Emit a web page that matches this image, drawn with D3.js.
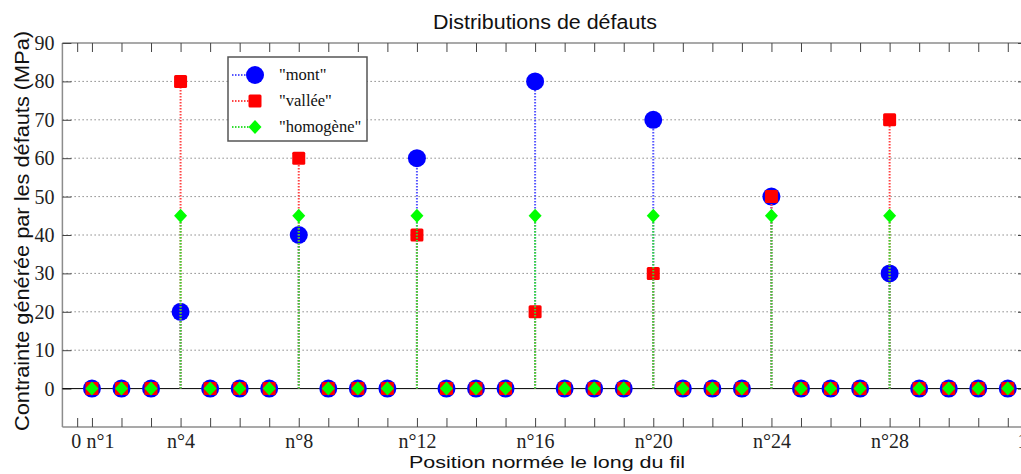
<!DOCTYPE html>
<html><head><meta charset="utf-8">
<script src="https://cdn.jsdelivr.net/npm/d3@7"></script>
<style>body{margin:0;background:#fff;} svg{display:block;}</style>
</head><body>
<svg id="c" width="1021" height="474"></svg>
<script>
// ---- data ----
const positions = [1,2,3,4,5,6,7,8,9,10,11,12,13,14,15,16,17,18,19,20,21,22,23,24,25,26,27,28,29,30,31,32];
const mont     = [0,0,0,20,0,0,0,40,0,0,0,60,0,0,0,80,0,0,0,70,0,0,0,50,0,0,0,30,0,0,0,0];
const vallee   = [0,0,0,80,0,0,0,60,0,0,0,40,0,0,0,20,0,0,0,30,0,0,0,50,0,0,0,70,0,0,0,0];
const homogene = [0,0,0,45,0,0,0,45,0,0,0,45,0,0,0,45,0,0,0,45,0,0,0,45,0,0,0,45,0,0,0,0];
const seriesNames = ['"mont"', '"vallée"', '"homogène"'];
const xTickValues = [0.5,1,2,3,4,5,6,7,8,9,10,11,12,13,14,15,16,17,18,19,20,21,22,23,24,25,26,27,28,29,30,31,32,32.5];
const xTickLabels = {0.5:"0",1:"n°1",4:"n°4",8:"n°8",12:"n°12",16:"n°16",20:"n°20",24:"n°24",28:"n°28",32.5:"1"};
const yTickValues = [0,10,20,30,40,50,60,70,80,90];
const yTickLabels = ["0","10","20","30","40","50","60","70","80","90"];

const svg = d3.select("#c");
const L = 62.4, R = 1027, T = 43, B = 427;
const x = d3.scaleLinear().domain([0, 32.65]).range([L, R]);
const y = d3.scaleLinear().domain([-10, 90]).range([B, T]);

// grid
svg.append("g").selectAll("line").data(yTickValues.filter(v => v > 0 && v < 90)).join("line")
  .attr("x1", L).attr("x2", R).attr("y1", d => y(d)).attr("y2", d => y(d))
  .attr("stroke", "#8a8a8a").attr("stroke-width", 1).attr("stroke-dasharray", "1.5,2.5");

// axes box
const axisCol = "#8c8c8c";
[[L,T,R,T],[L,B,R,B],[L,T,L,B],[R,T,R,B]].forEach(c =>
  svg.append("line").attr("x1", c[0]).attr("y1", c[1]).attr("x2", c[2]).attr("y2", c[3])
    .attr("stroke", axisCol).attr("stroke-width", 1.5));

// x axis (bottom) with inward ticks
const xAxisB = d3.axisBottom(x).tickValues(xTickValues.filter(d => d !== 32.5)).tickSizeInner(-9).tickSizeOuter(0)
  .tickFormat(d => xTickLabels[d] || "");
const gxb = svg.append("g").attr("transform", `translate(0,${B})`).call(xAxisB);
gxb.select(".domain").remove();
gxb.selectAll(".tick line").attr("stroke", "#444");
gxb.selectAll(".tick text").attr("y", 21).attr("dy", 0)
  .attr("font-family", "Liberation Serif, serif").attr("font-size", 20).attr("fill", "#222");
gxb.selectAll(".tick").filter(d => d === 0.5).select("text").attr("x", -1.5);
gxb.selectAll(".tick").filter(d => d === 1).select("text").attr("x", 8);
// right-edge label "1" (cut off by the window as in the reference)
svg.append("text").attr("x", x(32.5)).attr("y", B + 21).attr("text-anchor", "middle")
  .attr("font-family", "Liberation Serif, serif").attr("font-size", 20).attr("fill", "#222")
  .text(xTickLabels[32.5]);
// top ticks
const xAxisT = d3.axisTop(x).tickValues(xTickValues.filter(d => d !== 32.5)).tickSizeInner(-9).tickSizeOuter(0).tickFormat("");
const gxt = svg.append("g").attr("transform", `translate(0,${T})`).call(xAxisT);
gxt.select(".domain").remove();
gxt.selectAll(".tick line").attr("stroke", "#444");

// y axis left
const yAxisL = d3.axisLeft(y).tickValues(yTickValues).tickSizeInner(-9).tickSizeOuter(0)
  .tickFormat((d, i) => yTickLabels[i]);
const gyl = svg.append("g").attr("transform", `translate(${L},0)`).call(yAxisL);
gyl.select(".domain").remove();
gyl.selectAll(".tick line").attr("stroke", "#444");
gyl.selectAll(".tick text").attr("x", -8)
  .attr("font-family", "Liberation Serif, serif").attr("font-size", 20).attr("fill", "#222");
const yAxisR = d3.axisRight(y).tickValues(yTickValues).tickSizeInner(-9).tickSizeOuter(0).tickFormat("");
const gyr = svg.append("g").attr("transform", `translate(${R},0)`).call(yAxisR);
gyr.select(".domain").remove();
gyr.selectAll(".tick line").attr("stroke", "#444");

// zero baseline
svg.append("line").attr("x1", L).attr("x2", R).attr("y1", y(0)).attr("y2", y(0)).attr("stroke", "#000").attr("stroke-width", 1);

// series
const series = [
  {name: seriesNames[0], vals: mont, color: "#0000ff", stem: "#5555ff", shape: "circle"},
  {name: seriesNames[1], vals: vallee, color: "#ff0000", stem: "#ff4444", shape: "square"},
  {name: seriesNames[2], vals: homogene, color: "#00ff00", stem: "#33dd33", shape: "diamond"}
];
function marker(g, s, cx, cy) {
  if (s.shape === "circle") g.append("circle").attr("cx", cx).attr("cy", cy).attr("r", 9).attr("fill", s.color);
  else if (s.shape === "square") g.append("rect").attr("x", cx - 6.5).attr("y", cy - 6.5).attr("width", 13).attr("height", 13).attr("rx", 1.5).attr("fill", s.color);
  else g.append("path").attr("d", `M${cx},${cy-7}L${cx+6.5},${cy}L${cx},${cy+7}L${cx-6.5},${cy}Z`).attr("fill", s.color);
}
series.forEach(s => {
  const g = svg.append("g");
  g.selectAll("line").data(positions.map((p, i) => ({p, v: s.vals[i]})).filter(d => d.v !== 0)).join("line")
    .attr("x1", d => x(d.p)).attr("x2", d => x(d.p)).attr("y1", y(0)).attr("y2", d => y(d.v))
    .attr("stroke", s.stem).attr("stroke-width", 2).attr("stroke-dasharray", "1.5,1.5");
  positions.forEach((p, i) => marker(g, s, x(p), y(s.vals[i])));
});

// legend
const lg = svg.append("g");
lg.append("rect").attr("x", 228).attr("y", 57).attr("width", 139).attr("height", 84)
  .attr("fill", "#fff").attr("stroke", "#555").attr("stroke-width", 1.5);
series.forEach((s, i) => {
  const cy = 75 + i * 26;
  lg.append("line").attr("x1", 232).attr("x2", 255).attr("y1", cy).attr("y2", cy)
    .attr("stroke", s.stem).attr("stroke-width", 2).attr("stroke-dasharray", "1.5,1.5");
  marker(lg, s, 255, cy);
  lg.append("text").attr("x", 279).attr("y", cy + 5).text(s.name)
    .attr("font-family", "Liberation Serif, serif").attr("font-size", 16.5).attr("fill", "#111");
});

// titles
svg.append("text").attr("x", 545).attr("y", 29).attr("text-anchor", "middle")
  .attr("font-family", "Liberation Sans, Arial, sans-serif").attr("font-size", 20).attr("fill", "#111")
  .attr("textLength", 224).attr("lengthAdjust", "spacingAndGlyphs")
  .text("Distributions de défauts");
svg.append("text").attr("x", 547).attr("y", 468).attr("text-anchor", "middle")
  .attr("font-family", "Liberation Sans, Arial, sans-serif").attr("font-size", 17).attr("fill", "#111")
  .attr("textLength", 276).attr("lengthAdjust", "spacingAndGlyphs")
  .text("Position normée le long du fil");
svg.append("text").attr("transform", "translate(29,231) rotate(-90)").attr("text-anchor", "middle")
  .attr("font-family", "Liberation Sans, Arial, sans-serif").attr("font-size", 20).attr("fill", "#111")
  .attr("textLength", 400).attr("lengthAdjust", "spacingAndGlyphs")
  .text("Contrainte générée par les défauts (MPa)");
</script>
</body></html>
